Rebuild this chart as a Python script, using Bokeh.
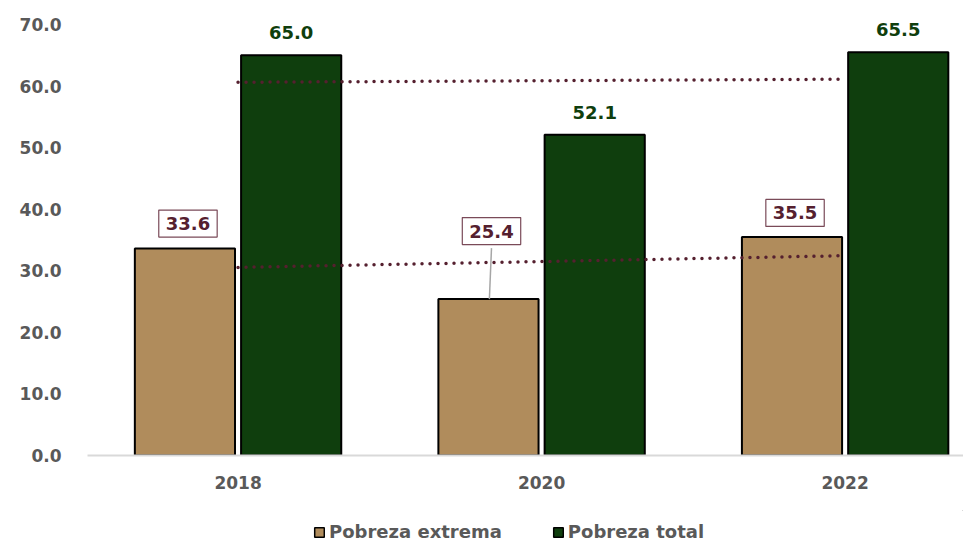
import numpy as np
from bokeh.plotting import figure
from bokeh.layouts import column
from bokeh.models import Range1d, FixedTicker, Label, Legend, LegendItem, ColumnDataSource
from bokeh.embed import file_html
from bokeh.resources import INLINE

years = ["2018", "2020", "2022"]
extrema = [33.6, 25.4, 35.5]
total = [65.0, 52.1, 65.5]
y_ticks = [0, 10, 20, 30, 40, 50, 60, 70]

TAN = "#B08C5C"
GREEN = "#0F3E0D"
MAROON = "#55202F"
GRAY = "#595959"
FONT = "DejaVu Sans"

PX_PER_UNIT = 431 / 70.0
Y_TOP = 70 + 24 / PX_PER_UNIT

xs = np.arange(len(years))
src = ColumnDataSource(dict(x=xs, ext=extrema, tot=total,
                            x_ext=xs - 0.175, x_tot=xs + 0.175))

p = figure(width=963, height=510, output_backend="svg", toolbar_location=None,
           x_range=Range1d(-0.496, 2.39), y_range=Range1d(0, Y_TOP),
           min_border_left=87, min_border_right=0, min_border_top=0,
           min_border_bottom=55)
p.outline_line_color = None
p.grid.visible = False

r1 = p.vbar(x="x_ext", top="ext", width=0.33, source=src, fill_color=TAN,
            line_color="black", line_width=2)
r2 = p.vbar(x="x_tot", top="tot", width=0.33, source=src, fill_color=GREEN,
            line_color="black", line_width=2)

# linear trend lines
for vals in (extrema, total):
    k, b = np.polyfit(xs, vals, 1)
    p.line([xs[0], xs[-1]], [b + k * xs[0], b + k * xs[-1]], line_color=MAROON,
           line_width=3.5, line_dash="0 8", line_cap="round")

# total labels
for xi, v in zip(xs, total):
    p.add_layout(Label(x=xi + 0.175, y=v, text=f"{v:.1f}", y_offset=16,
                       text_align="center", text_baseline="bottom",
                       text_font=FONT, text_font_style="bold",
                       text_font_size="18px", text_color=GREEN))

# extreme labels (boxed)
offsets = [25, 68, 24]
for xi, v, off in zip(xs, extrema, offsets):
    if off > 40:
        p.segment(x0=[xi - 0.172], y0=[v], x1=[xi - 0.165],
                  y1=[v + (off - 17) / PX_PER_UNIT],
                  line_color="#A6A6A6", line_width=1.5)
    p.add_layout(Label(x=xi - 0.165, y=v, text=f"{v:.1f}", y_offset=off,
                       text_align="center", text_baseline="middle",
                       text_font=FONT, text_font_style="bold",
                       text_font_size="18px", text_color=MAROON,
                       background_fill_color="white",
                       border_line_color="#7A4A58", border_line_width=1.2,
                       padding=7))

p.yaxis.ticker = FixedTicker(ticks=y_ticks)
p.yaxis.major_label_overrides = {t: f"{t:.1f}" for t in y_ticks}
p.yaxis.axis_line_color = None
p.yaxis.major_tick_line_color = None
p.yaxis.minor_tick_line_color = None
p.yaxis.major_label_standoff = 20

p.xaxis.ticker = FixedTicker(ticks=list(xs))
p.xaxis.major_label_overrides = {int(i): y for i, y in zip(xs, years)}
p.xaxis.axis_line_color = "#D9D9D9"
p.xaxis.axis_line_width = 2
p.xaxis.major_tick_line_color = None
p.xaxis.minor_tick_line_color = None
p.xaxis.major_label_standoff = 14

for ax in (p.xaxis, p.yaxis):
    ax.major_label_text_font = FONT
    ax.major_label_text_font_style = "bold"
    ax.major_label_text_font_size = "17px"
    ax.major_label_text_color = GRAY

# legend in its own strip below the chart (swatch renderers lie outside its view)
pl = figure(width=963, height=32, output_backend="svg", toolbar_location=None,
            x_range=Range1d(0, 1), y_range=Range1d(0, 1),
            min_border_left=0, min_border_right=0, min_border_top=0,
            min_border_bottom=0)
pl.axis.visible = False
pl.grid.visible = False
pl.outline_line_color = None
l1 = pl.vbar(x=[5], top=[5], bottom=[4], width=0.1, fill_color=TAN,
             line_color="black", line_width=1.5)
l2 = pl.vbar(x=[5], top=[5], bottom=[4], width=0.1, fill_color=GREEN,
             line_color="black", line_width=1.5)
legend = Legend(items=[LegendItem(label="Pobreza extrema", renderers=[l1]),
                       LegendItem(label="Pobreza total", renderers=[l2])],
                orientation="horizontal", location=(226, 0),
                label_text_font=FONT, label_text_font_style="bold",
                label_text_font_size="18px", label_text_color=GRAY,
                glyph_width=12, glyph_height=12, spacing=50,
                border_line_color=None, background_fill_alpha=0,
                padding=4, margin=0, label_standoff=4)
pl.add_layout(legend, "center")

open("out.html", "w").write(file_html(column(p, pl, spacing=0), INLINE))
